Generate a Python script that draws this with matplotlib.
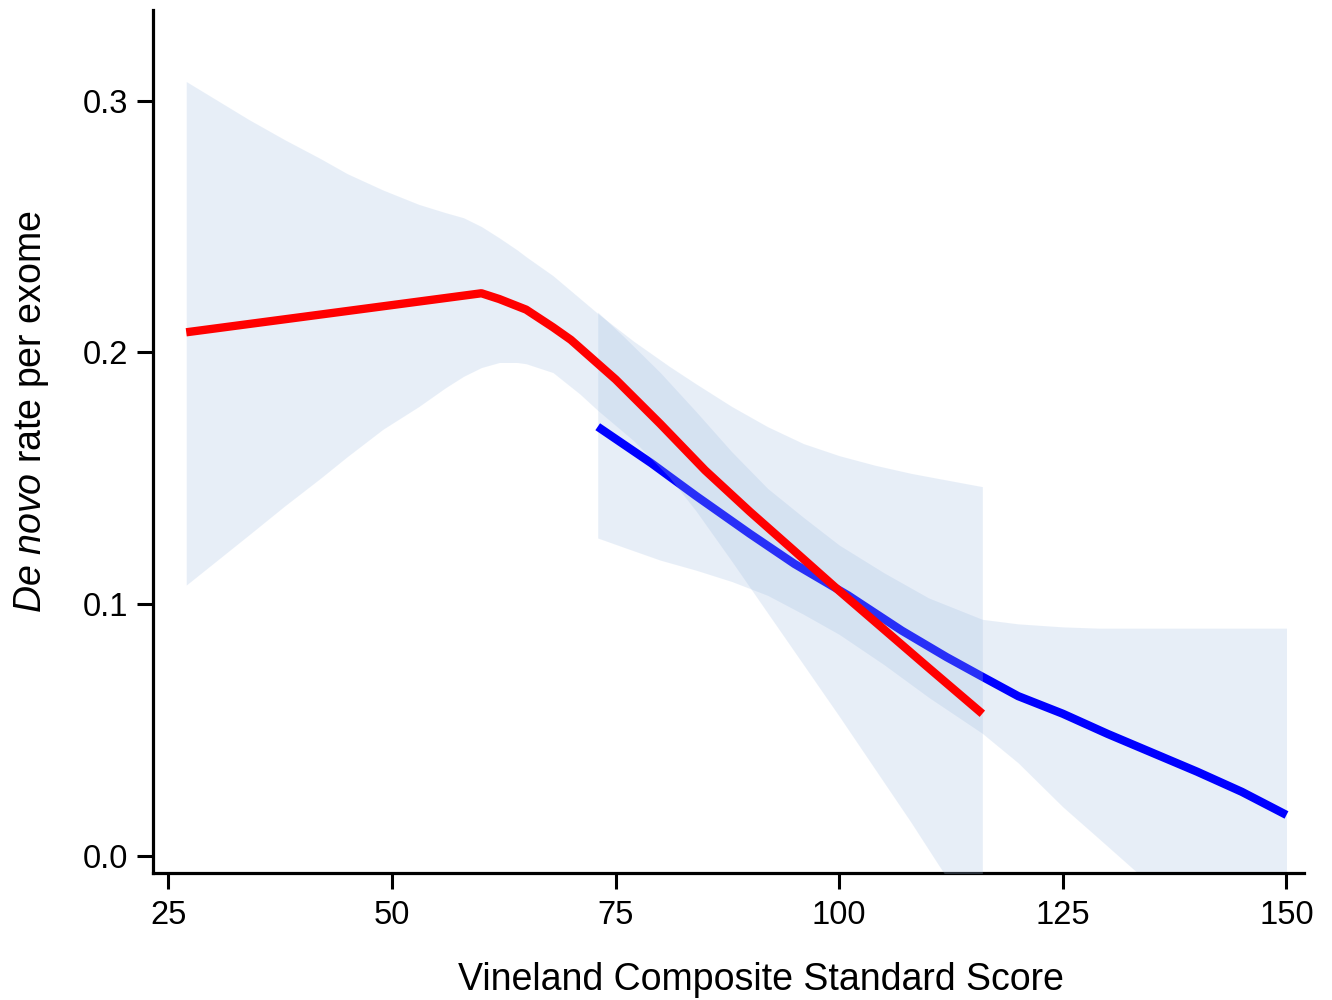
import matplotlib

matplotlib.use("Agg")
import matplotlib.pyplot as plt

plt.rcParams.update(
    {
        "font.family": "Liberation Sans",
        "mathtext.fontset": "custom",
        "mathtext.rm": "Liberation Sans",
        "mathtext.it": "Liberation Sans:italic",
    }
)

# fitted trend, lower IQ group (red)
red_x = [27, 40, 50, 60, 62, 65, 68, 70, 75, 80, 85, 90, 95, 100, 105, 110, 116]
red_y = [0.208, 0.2141, 0.2188, 0.2235, 0.2212, 0.217, 0.210, 0.205, 0.1893,
         0.1716, 0.1532, 0.1368, 0.1211, 0.1053, 0.090, 0.0747, 0.0565]

# confidence band for red fit
red_band_x = [27, 34, 38, 42, 45, 49, 53, 56, 58, 60, 62, 64, 65, 68, 71, 73,
              77, 81, 84, 88, 92, 96, 100, 104, 108, 111, 116]
red_hi = [0.3076, 0.2925, 0.2845, 0.277, 0.271, 0.2645, 0.2588, 0.2555, 0.2535,
          0.250, 0.2455, 0.2407, 0.238, 0.2305, 0.2215, 0.2155, 0.2045, 0.1945,
          0.1875, 0.1785, 0.1705, 0.1638, 0.159, 0.1552, 0.152, 0.150, 0.1467]
red_lo = [0.1076, 0.1275, 0.139, 0.150, 0.1586, 0.1695, 0.1785, 0.186, 0.1905,
          0.194, 0.196, 0.196, 0.1955, 0.192, 0.1835, 0.177, 0.165, 0.1505,
          0.137, 0.117, 0.0965, 0.076, 0.0555, 0.0345, 0.0135, -0.003, -0.03]

# fitted trend, higher IQ group (blue)
blue_x = [73, 79, 84, 90, 95, 101, 107, 112, 116, 120, 125, 130, 135, 140, 145, 150]
blue_y = [0.1705, 0.156, 0.143, 0.128, 0.116, 0.1035, 0.0895, 0.079, 0.0712, 0.0635,
          0.0565, 0.0485, 0.041, 0.0335, 0.0255, 0.0163]

# confidence band for blue fit
blue_band_x = [73, 76, 80, 84, 88, 92, 96, 100, 105, 110, 116, 120, 125, 129, 133,
               140, 150]
blue_hi = [0.216, 0.206, 0.192, 0.1765, 0.1605, 0.146, 0.1345, 0.1235, 0.1125,
           0.1025, 0.094, 0.0922, 0.091, 0.0905, 0.0905, 0.0905, 0.0905]
blue_lo = [0.1263, 0.1225, 0.1175, 0.1135, 0.109, 0.1035, 0.096, 0.088, 0.076,
           0.063, 0.0487, 0.037, 0.0195, 0.007, -0.0056, -0.026, -0.054]

band_color = "#a3bfe3"

fig = plt.figure(figsize=(13.32, 10), dpi=100)
ax = fig.add_axes([0.1151, 0.1273, 0.8639, 0.8627])

ax.fill_between(blue_band_x, blue_lo, blue_hi, color=band_color, alpha=0.25,
                lw=0, zorder=1)
ax.plot(blue_x, blue_y, color="#0000ff", lw=6, solid_capstyle="butt", zorder=2)
ax.fill_between(red_band_x, red_lo, red_hi, color=band_color, alpha=0.25,
                lw=0, zorder=3)
ax.plot(red_x, red_y, color="#ff0000", lw=6, solid_capstyle="butt", zorder=4)

ax.set_xlim(23.32, 151.96)
ax.set_ylim(-0.00663, 0.336)
ax.set_xticks([25, 50, 75, 100, 125, 150])
ax.set_yticks([0.0, 0.1, 0.2, 0.3])
ax.set_yticklabels(["0.0", "0.1", "0.2", "0.3"])

for side in ["top", "right"]:
    ax.spines[side].set_visible(False)
for side in ["left", "bottom"]:
    ax.spines[side].set_linewidth(2.3)

ax.tick_params(axis="both", direction="out", length=11.5, width=2.2,
               labelsize=23.5, color="black")
ax.tick_params(axis="y", pad=6.5)
ax.tick_params(axis="x", pad=8)

ax.set_xlabel("Vineland Composite Standard Score", fontsize=27)
ax.set_ylabel(r"$\mathit{De\ novo}$ rate per exome", fontsize=27)
ax.xaxis.set_label_coords(0.528, -0.104)
ax.yaxis.set_label_coords(-0.089, 0.535)

fig.savefig("out.png", dpi=100)
